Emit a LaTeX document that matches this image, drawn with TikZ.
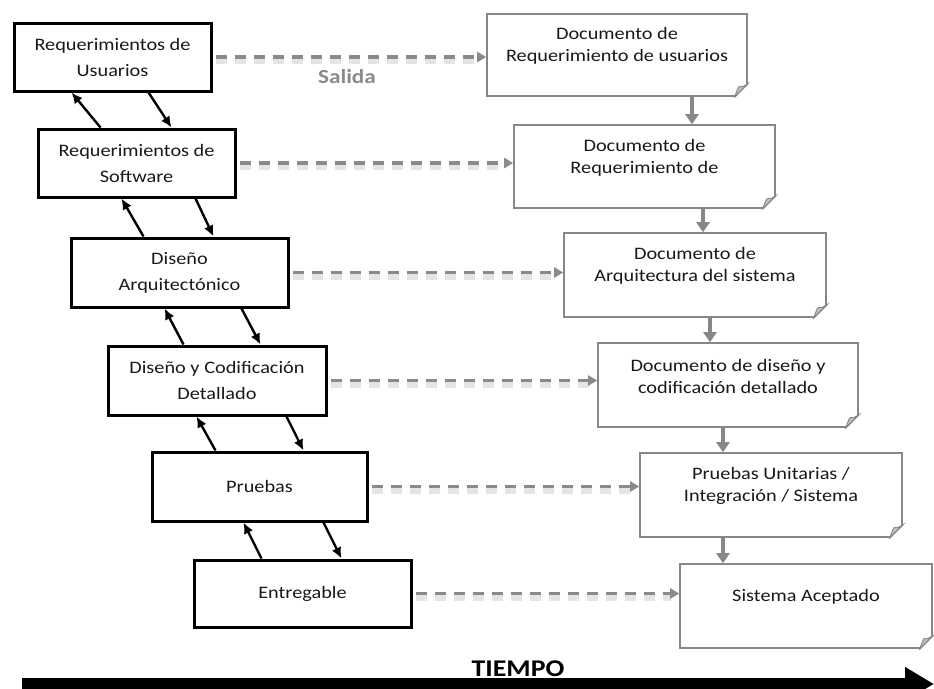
\documentclass[tikz,border=0pt]{standalone}
\usepackage{fontspec}
\setmainfont{Carlito}[FakeStretch=1.16]
\usetikzlibrary{arrows.meta}
\definecolor{docgray}{RGB}{135,135,135}
\definecolor{dashgray}{RGB}{138,138,138}
\definecolor{txt}{RGB}{25,25,25}
\begin{document}
\begin{tikzpicture}[x=1pt,y=-1pt,
  phase/.style={draw=black, line width=3pt, fill=white, align=center, text=txt,
    font=\fontsize{17.5}{26}\selectfont, inner sep=0pt},
  docbox/.style={draw=docgray, line width=1.6pt, fill=white, inner sep=0pt},
  doctext/.style={align=center, text=txt, font=\fontsize{17.5}{22}\selectfont, inner sep=0pt},
  backarrow/.style={line width=2.4pt, -{Latex[length=11pt,width=10pt]}},
  flowarrow/.style={draw=docgray, line width=4pt, -{Triangle[length=10pt,width=13pt]}},
  outarrow/.style={draw=dashgray, line width=3.5pt, dash pattern=on 11pt off 8pt,
    -{Triangle[length=9pt,width=10pt]}},
  outshadow/.style={draw=black!10, line width=6pt, dash pattern=on 11pt off 8pt},
  foldflap/.style={draw=docgray, fill=black!25, line width=0.9pt},
]
\clip (0,0) rectangle (934,688);
\fill[white] (0,0) rectangle (934,688);

% left phase boxes
\node[phase, minimum width=197pt, minimum height=68pt] (l1) at (112.5,57) {Requerimientos de\\Usuarios};
\node[phase, minimum width=197pt, minimum height=68pt] (l2) at (136.5,163) {Requerimientos de\\Software};
\node[phase, minimum width=217pt, minimum height=69pt] (l3) at (179.5,272.5) {Diseño\\Arquitectónico};
\node[phase, minimum width=218pt, minimum height=69pt] (l4) at (217,380.5) {Diseño y Codificación\\Detallado};
\node[phase, minimum width=215pt, minimum height=69pt] (l5) at (259.5,486.5) {Pruebas};
\node[phase, minimum width=217pt, minimum height=67pt] (l6) at (302.5,593.5) {Entregable};

% right document boxes
\node[docbox, minimum width=260pt, minimum height=82pt] (d1) at (617,55) {};
\node[docbox, minimum width=261pt, minimum height=83pt] (d2) at (644.5,166.5) {};
\node[docbox, minimum width=262pt, minimum height=84pt] (d3) at (695,275) {};
\node[docbox, minimum width=260pt, minimum height=84pt] (d4) at (728,385) {};
\node[docbox, minimum width=262pt, minimum height=84pt] (d5) at (771,495) {};
\node[docbox, minimum width=252pt, minimum height=84pt] (d6) at (806,606) {};

\foreach \n in {d1,d2,d3,d4,d5,d6} {
  \fill[white] ([xshift=-14pt,yshift=-2pt]\n.south east) -- ([xshift=2pt,yshift=-2pt]\n.south east)
     -- ([xshift=2pt,yshift=14pt]\n.south east) -- cycle;
  \draw[docgray, line width=1.4pt] ([xshift=-13pt]\n.south east) -- ([yshift=13pt]\n.south east);
  \filldraw[foldflap] ([xshift=-13pt]\n.south east) .. controls ([xshift=-11pt,yshift=6pt]\n.south east)
     .. ([xshift=-9pt,yshift=10pt]\n.south east) .. controls ([xshift=-5pt,yshift=10pt]\n.south east)
     .. ([yshift=13pt]\n.south east) -- cycle;
}

\node[doctext] (t1) at ([yshift=9pt]d1.center) {Documento de\\Requerimiento de usuarios};
\node[doctext] (t2) at ([yshift=9pt]d2.center) {Documento de\\Requerimiento de};
\node[doctext] (t3) at ([yshift=9pt]d3.center) {Documento de\\Arquitectura del sistema};
\node[doctext] (t4) at ([yshift=9pt]d4.center) {Documento de diseño y\\codificación detallado};
\node[doctext] (t5) at ([yshift=9pt]d5.center) {Pruebas Unitarias /\\Integración / Sistema};
\node[doctext] (t6) at ([yshift=9pt]d6.center) {Sistema Aceptado};

% gray flow arrows between documents
\draw[flowarrow] ([xshift=75pt]d1.south) -- ([xshift=75pt]d1.south |- d2.north);
\draw[flowarrow] ([xshift=58.5pt]d2.south) -- ([xshift=58.5pt]d2.south |- d3.north);
\draw[flowarrow] ([xshift=15pt]d3.south) -- ([xshift=15pt]d3.south |- d4.north);
\draw[flowarrow] ([xshift=-5pt]d4.south) -- ([xshift=-5pt]d4.south |- d5.north);
\draw[flowarrow] ([xshift=-48pt]d5.south) -- ([xshift=-48pt]d5.south |- d6.north);

% dashed output arrows (with soft shadow)
\foreach \a/\b in {l1/d1,l2/d2,l3/d3,l4/d4,l5/d5,l6/d6} {
  \draw[outshadow] ([xshift=3pt,yshift=-4pt]\a.east) -- ([xshift=-8pt,yshift=-4pt]\a.east -| \b.west);
}
\foreach \a/\b in {l1/d1,l2/d2,l3/d3,l4/d4,l5/d5,l6/d6} {
  \draw[outarrow] ([xshift=3pt]\a.east) -- (\a.east -| \b.west);
}
\node[font=\bfseries\fontsize{20}{20}\selectfont, text=dashgray, inner sep=0pt] (salida) at (347,77) {Salida};

% black feedback arrows between phases
\draw[backarrow] ([xshift=64pt]l2.north west) -- ([xshift=59pt]l1.south west);
\draw[backarrow] ([xshift=136pt]l1.south west) -- ([xshift=135pt]l2.north west);
\draw[backarrow] ([xshift=74pt]l3.north west) -- ([xshift=85pt]l2.south west);
\draw[backarrow] ([xshift=159pt]l2.south west) -- ([xshift=144pt]l3.north west);
\draw[backarrow] ([xshift=77pt]l4.north west) -- ([xshift=95pt]l3.south west);
\draw[backarrow] ([xshift=172pt]l3.south west) -- ([xshift=154pt]l4.north west);
\draw[backarrow] ([xshift=65pt]l5.north west) -- ([xshift=90pt]l4.south west);
\draw[backarrow] ([xshift=180pt]l4.south west) -- ([xshift=153pt]l5.north west);
\draw[backarrow] ([xshift=69pt]l6.north west) -- ([xshift=93pt]l5.south west);
\draw[backarrow] ([xshift=173pt]l5.south west) -- ([xshift=149pt]l6.north west);

% time axis
\coordinate (t0) at (22,684);
\coordinate (tend) at (934,684);
\draw[line width=12pt, -{Triangle[length=29pt,width=32pt]}] (t0) -- (tend);
\node[font=\bfseries\fontsize{24}{24}\selectfont, inner sep=0pt] (tiempo) at (518,668.5) {TIEMPO};
\end{tikzpicture}
\end{document}
